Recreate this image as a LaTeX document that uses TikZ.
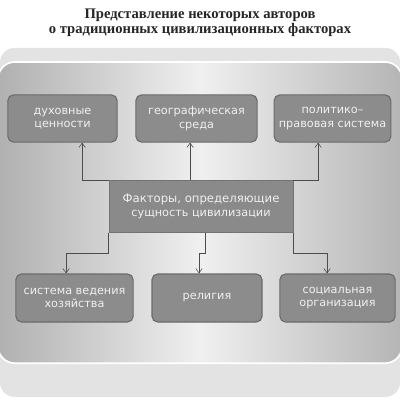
\documentclass[tikz,border=0pt]{standalone}
\usepackage{fontspec}
\setmainfont{Liberation Serif}
\newfontfamily\boxfont{DejaVu Sans}
\usepackage{xcolor}
\usetikzlibrary{positioning,arrows.meta}

\begin{document}
\begin{tikzpicture}[every node/.style={font=\boxfont\fontsize{8}{9.6}\selectfont},
  box/.style={draw=black!58, fill=black!45, rounded corners=4pt, align=center, text=black!6, minimum height=11.8mm, line width=0.8pt},
  hub/.style={draw=black!55, fill=black!46, align=center, text=black!6, minimum height=12.8mm, minimum width=46mm, line width=0.6pt},
  arr/.style={-{Straight Barb[length=1.1mm,width=1.6mm]}, draw=black!70, line width=0.4pt}]
\useasboundingbox (0,0) rectangle (10,-10);
\fill[white] (0,0) rectangle (10,-10);
% panels
\fill[black!11, rounded corners=10pt] (0,-1.2) rectangle (10,-9.92);
\shade[left color=black!31, right color=black!29, middle color=black!6, rounded corners=12pt] (-0.05,-1.55) rectangle (10.05,-9.08);
\draw[white, line width=1.2pt, rounded corners=12pt] (-0.05,-1.55) rectangle (10.05,-9.08);
% title
\node[font=\bfseries\fontsize{10.4}{10.8}\selectfont, text=black!85, align=center] (title) at (5,-0.56) {Представление некоторых авторов\\о традиционных цивилизационных факторах};
% boxes
\node[box, minimum width=27.3mm] (spirit) at (1.5625,-2.9625) {духовные\\ценности};
\node[box, minimum width=30.3mm] (geo) at (4.9125,-2.9625) {географическая\\среда};
\node[box, minimum width=28.3mm] (law) at (8.3125,-2.9625) {политико–\\правовая система};
\node[hub] (core) at (5.025,-5.1625) {\fontsize{8.3}{10.5}\selectfont Факторы, определяющие\\сущность цивилизации};
\node[box, minimum width=29.3mm, minimum height=12mm] (econ) at (1.8625,-7.45) {система ведения\\хозяйства};
\node[box, minimum width=27.5mm, minimum height=12mm] (relig) at (5.175,-7.45) {религия};
\node[box, minimum width=28.8mm, minimum height=12mm] (social) at (8.4375,-7.45) {социальная\\организация};
% connectors up
\draw[arr] (core.north west) -| ([xshift=4.9mm]spirit.south);
\draw[arr] ([xshift=-1.6mm]geo.south |- core.north) -- ([xshift=-1.6mm]geo.south);
\draw[arr] (core.north east) -| ([xshift=-3.6mm]law.south);
% connectors down
\draw[arr] (core.south west) -- ++(0,-0.525) -| ([xshift=-2.1mm]econ.north);
\draw[arr] ([xshift=1mm]core.south) -- ++(0,-0.525) -| ([xshift=-2mm]relig.north);
\draw[arr] (core.south east) -- ++(0,-0.525) -| ([xshift=-2.6mm]social.north);
\end{tikzpicture}
\end{document}
